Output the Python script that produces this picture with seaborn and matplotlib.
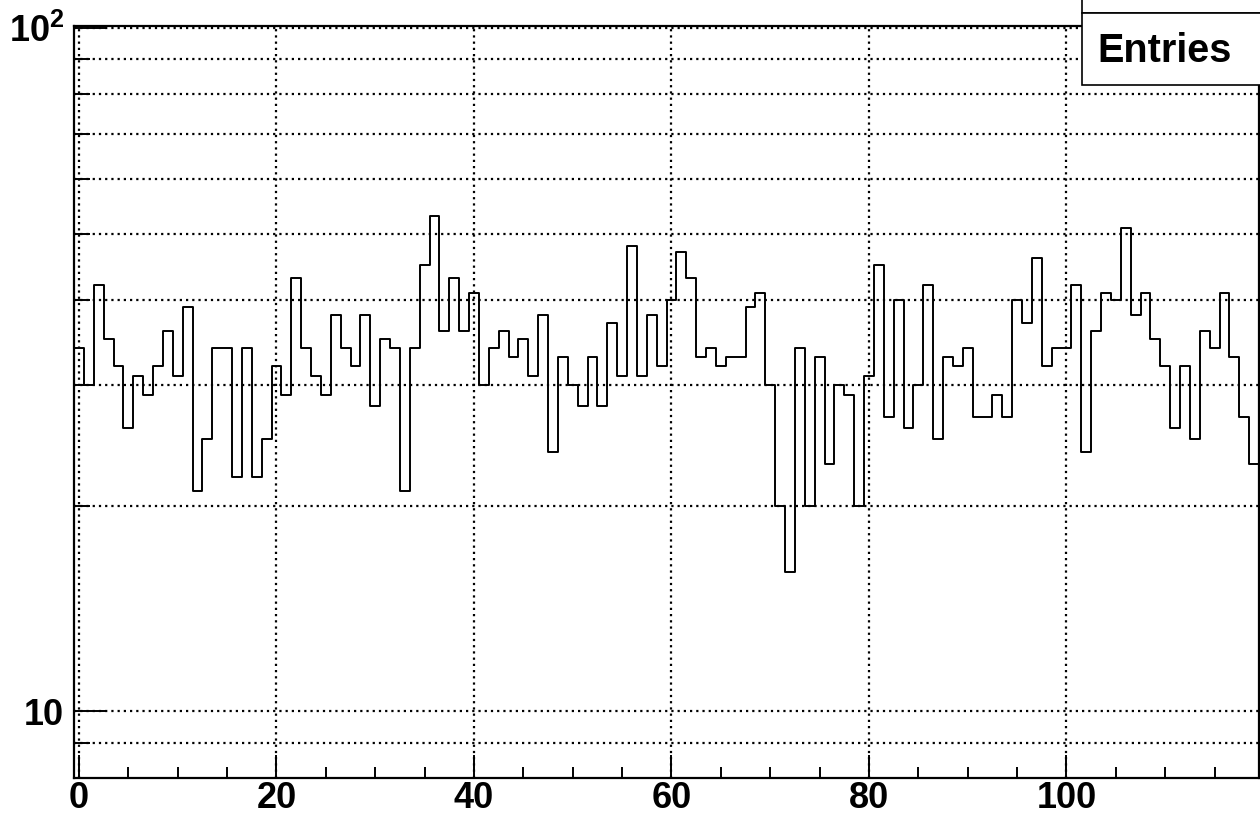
import numpy as np
import pandas as pd
import matplotlib
matplotlib.use("Agg")
import matplotlib.pyplot as plt
from matplotlib.ticker import FixedLocator, MultipleLocator, NullFormatter, FuncFormatter
from matplotlib.patches import Rectangle
import seaborn as sns

# ---- data ----
bin_centers = list(range(120))
counts = [34, 30, 42, 35, 32, 26, 31, 29, 32, 36,
          31, 39, 21, 25, 34, 34, 22, 34, 22, 25,
          32, 29, 43, 34, 31, 29, 38, 34, 32, 38,
          28, 35, 34, 21, 34, 45, 53, 36, 43, 36,
          41, 30, 34, 36, 33, 35, 31, 38, 24, 33,
          30, 28, 33, 28, 37, 31, 48, 31, 38, 32,
          40, 47, 43, 33, 34, 32, 33, 33, 39, 41,
          30, 20, 16, 34, 20, 33, 23, 30, 29, 20,
          31, 45, 27, 40, 26, 30, 42, 25, 33, 32,
          34, 27, 27, 29, 27, 40, 37, 46, 32, 34,
          34, 42, 24, 36, 41, 40, 51, 38, 41, 35,
          32, 26, 32, 25, 36, 34, 41, 33, 27, 23]
bin_edges = [i - 0.5 for i in range(121)]
x_major = [0, 20, 40, 60, 80, 100]
y_major = [10, 100]
y_minor = [9, 20, 30, 40, 50, 60, 70, 80, 90]
box_label = "Entries"

df = pd.DataFrame({"x": bin_centers, "w": counts})

sns.set_style("white")
plt.rcParams["font.family"] = ["Liberation Sans", "DejaVu Sans"]
plt.rcParams["font.weight"] = "bold"
plt.rcParams["mathtext.fontset"] = "custom"
plt.rcParams["mathtext.rm"] = "Liberation Sans:bold"
plt.rcParams["mathtext.bf"] = "Liberation Sans:bold"
plt.rcParams["mathtext.it"] = "Liberation Sans:bold"

W, H = 1260, 814
fig = plt.figure(figsize=(W / 100, H / 100), dpi=100)
left, right, top, bottom = 74 / W, 1259 / W, 1 - 26 / H, 1 - 777.7 / H
ax = fig.add_axes([left, bottom, right - left, top - bottom])

sns.histplot(data=df, x="x", weights="w", bins=bin_edges, element="step",
             fill=False, color="black", linewidth=1.4, ax=ax)

ax.set_yscale("log")
ax.set_xlim(-0.5, 119.5)
ax.set_ylim(8.0, 100.6)

ax.xaxis.set_major_locator(FixedLocator(x_major))
ax.xaxis.set_minor_locator(MultipleLocator(5))
ax.yaxis.set_major_locator(FixedLocator(y_major))
ax.yaxis.set_minor_locator(FixedLocator(y_minor))
ax.yaxis.set_minor_formatter(NullFormatter())
ax.yaxis.set_major_formatter(FuncFormatter(
    lambda v, p: "10" if abs(v - 10) < 1e-6 else r"$\mathbf{10^{%d}}$" % round(np.log10(v))))
ax.xaxis.set_major_formatter(FuncFormatter(lambda v, p: "%d" % v))

ax.set_xlabel("")
ax.set_ylabel("")

for s in ax.spines.values():
    s.set_visible(True)
    s.set_color("black")
    s.set_linewidth(1.6)

ax.tick_params(axis="both", which="both", direction="in", color="black", width=1.4,
               labelsize=26, labelcolor="black", bottom=True, left=True,
               top=False, right=False)
ax.tick_params(axis="y", which="major", length=23.8, pad=7)
ax.tick_params(axis="y", which="minor", length=11.5)
ax.tick_params(axis="x", which="major", length=16.5, pad=2.5)
ax.tick_params(axis="x", which="minor", length=8)
for lab in ax.get_xticklabels() + ax.get_yticklabels():
    lab.set_fontweight("bold")

grid_kw = dict(color="black", linestyle=(0, (1, 1.8)), linewidth=1.6)
ax.grid(False)
ax.grid(True, axis="x", which="major", **grid_kw)
ax.grid(True, axis="y", which="both", **grid_kw)
ax.set_axisbelow(True)

# stats box (top right)
bx0 = 1082 / W
fig.add_artist(Rectangle((bx0, 1 - 12.7 / H), 1.0, 0.1, transform=fig.transFigure,
                         facecolor="white", edgecolor="black", linewidth=1.2, zorder=10))
fig.add_artist(Rectangle((bx0, 1 - 85 / H), 1.0, (85 - 12.7) / H, transform=fig.transFigure,
                         facecolor="white", edgecolor="black", linewidth=1.2, zorder=10))
fig.text(1165 / W, 1 - 51 / H, box_label, ha="center", va="center", fontsize=28.5,
         fontweight="bold", color="black", zorder=11)

fig.savefig("out.png", dpi=100)
